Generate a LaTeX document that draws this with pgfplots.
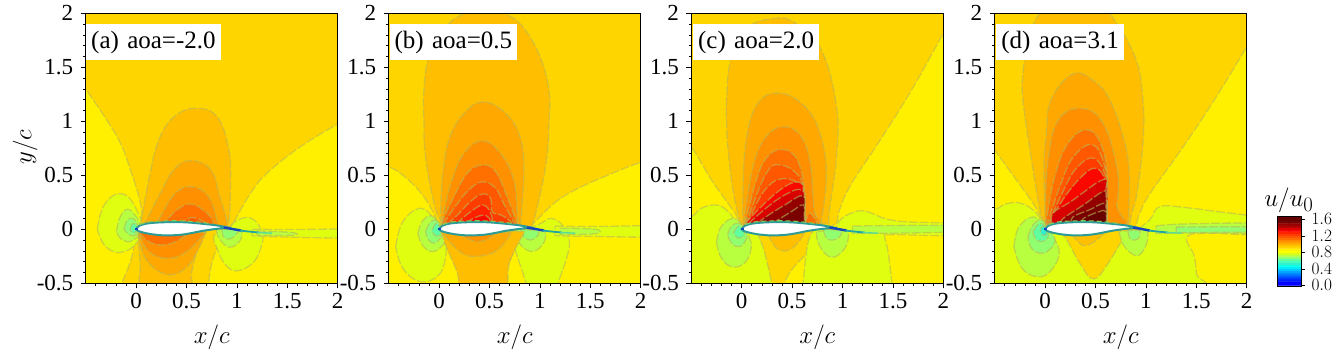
\documentclass[border=0pt]{standalone}
\usepackage{fontspec}
\setmainfont{Liberation Serif}
\usepackage{pgfplots}
\pgfplotsset{compat=1.18}
\definecolor{lA}{RGB}{255,240,0}
\definecolor{lB}{RGB}{255,213,0}
\definecolor{lC}{RGB}{255,190,0}
\definecolor{lD}{RGB}{255,168,0}
\definecolor{lE}{RGB}{255,144,0}
\definecolor{lF}{RGB}{255,112,0}
\definecolor{lG}{RGB}{255,88,0}
\definecolor{lH}{RGB}{255,60,0}
\definecolor{lI}{RGB}{255,32,0}
\definecolor{lJ}{RGB}{250,8,0}
\definecolor{lK}{RGB}{216,0,0}
\definecolor{lL}{RGB}{176,0,0}
\definecolor{lN}{RGB}{148,0,0}
\definecolor{lM}{RGB}{122,0,0}
\definecolor{lO}{RGB}{105,0,0}
\definecolor{gA}{RGB}{224,255,16}
\definecolor{gB}{RGB}{184,255,64}
\definecolor{gC}{RGB}{144,255,112}
\definecolor{gD}{RGB}{96,255,160}
\definecolor{gE}{RGB}{48,240,208}
\definecolor{ctr}{RGB}{185,185,85}
\definecolor{foil}{RGB}{45,155,150}
\tikzset{tag/.style={fill=white, inner sep=0pt, minimum height=36pt, anchor=north west, align=center, font=\fontsize{25}{27}\selectfont}}
\pgfplotsset{
  reg/.style={fill=#1, draw=ctr, draw opacity=0.6, line width=1.3pt, dash pattern=on 9pt off 2pt, smooth, tension=0.7, mark=none},
  bgr/.style={fill=lB, draw=none, mark=none},
  panel/.style={
    scale only axis, width=252pt, height=270pt, anchor=south west,
    xmin=-0.5, xmax=2, ymin=-0.5, ymax=2,
    axis on top, axis line style={line width=0.9pt},
    tick align=outside, xtick pos=bottom, ytick pos=left,
    major tick length=5pt, minor tick length=2.8pt,
    tick style={black, line width=0.7pt},
    xtick={0,0.5,1,1.5,2}, xticklabels={0,0.5,1,1.5,2},
    ytick={-0.5,0,0.5,1,1.5,2}, yticklabels={-0.5,0,0.5,1,1.5,2},
    minor xtick={-0.4,-0.3,-0.2,-0.1,0.1,0.2,0.3,0.4,0.6,0.7,0.8,0.9,1.1,1.2,1.3,1.4,1.6,1.7,1.8,1.9},
    minor ytick={-0.4,-0.3,-0.2,-0.1,0.1,0.2,0.3,0.4,0.6,0.7,0.8,0.9,1.1,1.2,1.3,1.4,1.6,1.7,1.8,1.9},
    tick label style={font=\fontsize{23}{25}\selectfont},
    xticklabel style={yshift=-1.5pt}, yticklabel style={xshift=-4pt},
    xlabel={$x/c$},
    xlabel style={font=\fontsize{24.88}{28}\selectfont, at={(axis description cs:0.5,-0.2)}, anchor=center},
  },
}
\newcommand{\airfoil}{%
  \addplot[fill=white, draw=foil, line width=2pt, mark=none, smooth, tension=0.5] coordinates {(0,0)(0.03,0.032)(0.1,0.052)(0.2,0.062)(0.35,0.067)(0.5,0.064)(0.65,0.052)(0.8,0.036)(0.92,0.014)(0.85,0.009)(0.75,-0.002)(0.65,-0.016)(0.55,-0.035)(0.45,-0.05)(0.35,-0.056)(0.25,-0.055)(0.15,-0.045)(0.07,-0.03)(0.02,-0.015)(0,0)} -- cycle;
  \addplot[draw={rgb,255:red,130;green,205;blue,90}, line width=1.1pt, dash pattern=on 5pt off 3pt, mark=none, smooth] coordinates {(0.04,0.045)(0.1,0.064)(0.2,0.074)(0.35,0.079)(0.5,0.076)(0.65,0.064)(0.75,0.05)};
  \addplot[draw={rgb,255:red,20;green,70;blue,190}, line width=2.4pt, mark=none] coordinates {(0.87,0.016)(0.95,0.004)(1.04,-0.012)};
  \addplot[draw={rgb,255:red,20;green,70;blue,190}, line width=2.4pt, mark=none] coordinates {(-0.01,0)(0.02,0)};
  \addplot[draw={rgb,255:red,30;green,165;blue,170}, line width=1.8pt, mark=none] coordinates {(1.03,-0.012)(1.13,-0.022)(1.22,-0.03)};
  \addplot[draw={rgb,255:red,90;green,220;blue,150}, line width=1.4pt, mark=none] coordinates {(1.2,-0.03)(1.35,-0.036)};
}
\begin{document}
\begin{tikzpicture}[x=1pt,y=1pt]
\useasboundingbox (0,0) rectangle (1340,352);

% ---------- (a) ----------
\begin{axis}[panel, at={(85.7pt,68.7pt)}, ylabel={$y/c$},
  ylabel style={font=\fontsize{24.88}{28}\selectfont, at={(axis description cs:-0.24,0.505)}, anchor=center}]
\addplot[bgr] coordinates {(-1,-1)(3,-1)(3,3)(-1,3)} -- cycle;
\addplot[reg=lA] coordinates {(-0.6,1.45)(-0.47,1.26)(-0.29,1.01)(-0.155,0.796)(-0.056,0.55)(0.043,0.24)(0.05,0.07)(0.03,0)(0,-0.05)(-0.05,-0.28)(-0.14,-0.5)(-0.16,-0.6)(-0.8,-0.6)(-0.8,1.45)} -- cycle;
\addplot[reg=lA] coordinates {(2.15,1.05)(2,0.975)(1.63,0.765)(1.30,0.52)(1.135,0.333)(0.97,0.07)(0.91,0)(0.82,-0.14)(0.75,-0.32)(0.72,-0.5)(0.71,-0.65)(2.3,-0.65)(2.3,1.05)} -- cycle;
\addplot[reg=gA] coordinates {(-0.385,0)(-0.33,0.20)(-0.21,0.32)(-0.08,0.30)(0.02,0.15)(0.06,0.04)(0.05,-0.06)(-0.02,-0.15)(-0.1,-0.2)(-0.21,-0.21)(-0.32,-0.14)(-0.385,0)} -- cycle;
\addplot[reg=gA] coordinates {(0.94,0.02)(0.98,0.07)(1.10,0.11)(1.2,0.06)(1.25,-0.04)(1.25,-0.13)(1.17,-0.3)(1.0,-0.385)(0.88,-0.32)(0.8,-0.17)(0.78,-0.05)(0.94,0.02)} -- cycle;
\addplot[reg=gA] coordinates {(1.15,0.0)(1.5,-0.002)(2.2,-0.005)(2.2,-0.075)(1.5,-0.072)(1.15,-0.06)} -- cycle;
\addplot[reg=gB] coordinates {(-0.195,-0.02)(-0.16,0.11)(-0.09,0.185)(-0.01,0.13)(0.04,0.04)(0.03,-0.05)(-0.03,-0.1)(-0.09,-0.115)(-0.16,-0.08)(-0.195,-0.02)} -- cycle;
\addplot[reg=gB] coordinates {(0.8,0)(0.82,-0.08)(0.92,-0.165)(1.02,-0.12)(1.05,-0.04)(1.03,0)(0.8,0)} -- cycle;
\addplot[reg=gB] coordinates {(1.2,-0.015)(1.55,-0.03)(1.55,-0.055)(1.2,-0.055)} -- cycle;
\addplot[reg=gC] coordinates {(-0.12,0)(-0.09,0.08)(-0.03,0.1)(0.02,0.02)(0,-0.05)(-0.06,-0.055)(-0.12,0)} -- cycle;
\addplot[reg=gC] coordinates {(0.85,0)(0.87,-0.07)(0.93,-0.09)(0.99,-0.05)(1,-0.01)(0.85,0)} -- cycle;
\addplot[reg=gD] coordinates {(-0.06,0)(-0.03,0.055)(0.015,0.01)(-0.02,-0.035)(-0.06,0)} -- cycle;
\addplot[reg=lC] coordinates {(0.04,0.03)(0.05,0.07)(0.076,0.21)(0.14,0.52)(0.225,0.827)(0.374,1.04)(0.59,1.12)(0.805,1.04)(0.92,0.735)(0.937,0.426)(0.92,0.07)(0.88,0.02)} -- cycle;
\addplot[reg=lC] coordinates {(0.02,-0.02)(0.04,-0.3)(0.08,-0.6)(0.52,-0.6)(0.55,-0.4)(0.62,-0.15)(0.69,-0.02)} -- cycle;
\addplot[reg=lD] coordinates {(0.06,0.03)(0.11,0.10)(0.24,0.333)(0.374,0.55)(0.54,0.636)(0.74,0.55)(0.83,0.30)(0.90,0.07)(0.88,0.02)} -- cycle;
\addplot[reg=lD] coordinates {(0.02,-0.03)(0.1,-0.28)(0.31,-0.42)(0.5,-0.35)(0.62,-0.18)(0.69,-0.03)} -- cycle;
\addplot[reg=lE] coordinates {(0.14,0.04)(0.21,0.07)(0.374,0.318)(0.546,0.395)(0.72,0.30)(0.805,0.07)(0.8,0.03)} -- cycle;
\addplot[reg=lE] coordinates {(0.03,-0.03)(0.12,-0.2)(0.3,-0.27)(0.48,-0.22)(0.62,-0.1)(0.69,-0.03)} -- cycle;
\addplot[reg=lF] coordinates {(0.24,0.04)(0.29,0.07)(0.407,0.18)(0.546,0.235)(0.705,0.148)(0.77,0.06)(0.75,0.03)} -- cycle;
\addplot[reg=lF] coordinates {(0.03,-0.03)(0.12,-0.11)(0.24,-0.145)(0.38,-0.12)(0.5,-0.05)} -- cycle;
\addplot[reg=lG] coordinates {(0.42,0.04)(0.47,0.07)(0.556,0.11)(0.67,0.07)(0.7,0.04)} -- cycle;
\airfoil
\node[tag, text width=135pt] at (rel axis cs:0,0.96) {(a) aoa=-2.0};
\end{axis}

% ---------- (b) ----------
\begin{axis}[panel, at={(388.7pt,68.7pt)}]
\addplot[bgr] coordinates {(-1,-1)(3,-1)(3,3)(-1,3)} -- cycle;
\addplot[reg=lA] coordinates {(-0.7,0.62)(-0.5,0.58)(-0.32,0.47)(-0.15,0.30)(-0.04,0.12)(0.02,0)(0.1,-0.1)(0.18,-0.3)(0.245,-0.5)(0.26,-0.6)(-0.7,-0.6)} -- cycle;
\addplot[reg=lA] coordinates {(2.2,0.66)(2,0.62)(1.67,0.50)(1.34,0.36)(1.14,0.24)(0.97,0.085)(0.88,0)(0.8,-0.1)(0.7,-0.3)(0.64,-0.5)(0.63,-0.6)(2.2,-0.6)} -- cycle;
\addplot[reg=gA] coordinates {(-0.43,-0.16)(-0.36,0.07)(-0.185,0.195)(-0.04,0.09)(0.03,0.01)(0.05,-0.1)(0.07,-0.22)(0,-0.42)(-0.185,-0.485)(-0.36,-0.36)(-0.43,-0.16)} -- cycle;
\addplot[reg=gA] coordinates {(0.88,0)(1.0,0.05)(1.11,0.10)(1.22,0.04)(1.29,-0.1)(1.27,-0.25)(1.19,-0.47)(1.14,-0.6)(0.93,-0.6)(0.81,-0.345)(0.73,-0.1)(0.71,-0.02)} -- cycle;
\addplot[reg=gA] coordinates {(1.15,0.03)(1.5,0.025)(2.2,0.025)(2.2,-0.065)(1.5,-0.065)(1.15,-0.06)} -- cycle;
\addplot[reg=gB] coordinates {(-0.21,-0.04)(-0.17,0.07)(-0.085,0.125)(0,0.06)(0.04,0)(0.06,-0.1)(0,-0.18)(-0.085,-0.205)(-0.17,-0.14)(-0.21,-0.04)} -- cycle;
\addplot[reg=gB] coordinates {(0.76,0)(0.79,-0.12)(0.91,-0.205)(1.02,-0.15)(1.06,-0.05)(1.04,0)} -- cycle;
\addplot[reg=gB] coordinates {(1.2,0.01)(1.55,0)(1.55,-0.04)(1.2,-0.05)} -- cycle;
\addplot[reg=gC] coordinates {(-0.135,-0.02)(-0.09,0.06)(-0.03,0.085)(0.02,0)(0.02,-0.07)(-0.05,-0.13)(-0.11,-0.09)(-0.135,-0.02)} -- cycle;
\addplot[reg=gC] coordinates {(0.81,0)(0.84,-0.07)(0.91,-0.1)(0.98,-0.06)(0.99,-0.01)} -- cycle;
\addplot[reg=gD] coordinates {(-0.07,-0.01)(-0.03,0.055)(0.015,0)(0,-0.06)(-0.05,-0.05)(-0.07,-0.01)} -- cycle;
\addplot[reg=lC] coordinates {(0.01,0.05)(0.02,0.07)(-0.05,0.24)(-0.135,0.67)(-0.15,0.98)(-0.15,1.29)(-0.1,1.6)(0.05,1.85)(0.21,1.98)(0.45,2.05)(0.69,1.98)(0.85,1.85)(1.0,1.6)(1.09,1.29)(1.09,0.98)(1.056,0.58)(0.94,0.086)(0.9,0.02)} -- cycle;
\addplot[reg=lC] coordinates {(0.02,-0.02)(0.08,-0.18)(0.18,-0.4)(0.245,-0.6)(0.63,-0.6)(0.7,-0.3)(0.85,-0.02)} -- cycle;
\addplot[reg=lD] coordinates {(0.03,0.04)(0.02,0.086)(0.02,0.27)(0.046,0.58)(0.11,0.86)(0.245,1.07)(0.44,1.18)(0.675,1.06)(0.81,0.83)(0.84,0.52)(0.825,0.27)(0.81,0.07)(0.8,0.03)} -- cycle;
\addplot[reg=lD] coordinates {(0.04,-0.04)(0.21,-0.21)(0.38,-0.25)(0.58,-0.19)(0.72,-0.03)} -- cycle;
\addplot[reg=lE] coordinates {(0.04,0.04)(0.046,0.15)(0.13,0.46)(0.245,0.70)(0.43,0.82)(0.61,0.70)(0.74,0.46)(0.775,0.15)(0.78,0.04)} -- cycle;
\addplot[reg=lE] coordinates {(0.18,-0.03)(0.25,-0.07)(0.38,-0.115)(0.5,-0.08)(0.56,-0.03)} -- cycle;
\addplot[reg=lF] coordinates {(0.04,0.04)(0.046,0.10)(0.146,0.30)(0.28,0.52)(0.43,0.595)(0.56,0.535)(0.675,0.30)(0.76,0.086)(0.76,0.04)} -- cycle;
\addplot[reg=lG] coordinates {(0.06,0.04)(0.06,0.07)(0.16,0.21)(0.295,0.364)(0.43,0.44)(0.56,0.38)(0.64,0.24)(0.74,0.07)(0.74,0.04)} -- cycle;
\addplot[reg=lH] coordinates {(0.09,0.04)(0.096,0.06)(0.18,0.13)(0.31,0.256)(0.43,0.327)(0.51,0.287)(0.53,0.16)(0.62,0.13)(0.71,0.07)(0.71,0.04)} -- cycle;
\addplot[reg=lI] coordinates {(0.18,0.04)(0.195,0.07)(0.31,0.16)(0.44,0.225)(0.52,0.13)(0.52,0.04)} -- cycle;
\addplot[reg=lJ] coordinates {(0.28,0.04)(0.31,0.085)(0.43,0.13)(0.5,0.10)(0.5,0.04)} -- cycle;
\airfoil
\node[tag, text width=127.4pt] at (rel axis cs:0.003,0.96) {(b) aoa=0.5};
\end{axis}

% ---------- (c) ----------
\begin{axis}[panel, at={(691.3pt,68.7pt)}]
\addplot[bgr] coordinates {(-1,-1)(3,-1)(3,3)(-1,3)} -- cycle;
\addplot[reg=lA] coordinates {(-0.7,1.0)(-0.5,0.765)(-0.3,0.457)(-0.135,0.24)(-0.02,0.07)(0.1,-0.2)(0.2,-0.6)(-0.7,-0.6)} -- cycle;
\addplot[reg=lA] coordinates {(2.1,1.98)(2,1.815)(1.685,1.29)(1.355,0.8)(1.09,0.425)(0.97,0.18)(0.94,0.055)(0.85,-0.03)(0.5,-0.6)(2.2,-0.6)(2.2,1.98)} -- cycle;
\addplot[reg=gA] coordinates {(-0.7,0.05)(-0.5,0.117)(-0.4,0.195)(-0.25,0.225)(-0.135,0.165)(-0.02,0.04)(0.16,-0.05)(0.295,-0.485)(0.3,-0.65)(-0.7,-0.65)} -- cycle;
\addplot[reg=gA] coordinates {(0.6,-0.65)(0.61,-0.485)(0.69,-0.04)(0.9,-0.01)(0.98,0.09)(1.09,0.15)(1.22,0.17)(1.42,0.10)(1.62,0.07)(2,0.06)(2.2,0.06)(2.2,-0.05)(1.5,-0.05)(1.42,-0.06)(1.45,-0.2)(1.49,-0.5)(1.5,-0.65)} -- cycle;
\addplot[reg=gB] coordinates {(-0.25,-0.12)(-0.2,0.03)(-0.07,0.10)(0.03,0)(0.06,-0.04)(0.095,-0.16)(0.04,-0.3)(-0.085,-0.35)(-0.2,-0.27)(-0.25,-0.12)} -- cycle;
\addplot[reg=gB] coordinates {(0.74,-0.02)(0.77,-0.15)(0.89,-0.26)(1.02,-0.18)(1.06,-0.05)(1.03,0)} -- cycle;
\addplot[reg=gB] coordinates {(1.1,0.03)(2.2,0.035)(2.2,-0.02)(1.1,-0.04)} -- cycle;
\addplot[reg=gC] coordinates {(-0.14,-0.05)(-0.1,0.03)(-0.03,0.055)(0.03,0)(0.05,-0.08)(-0.02,-0.16)(-0.1,-0.13)(-0.14,-0.05)} -- cycle;
\addplot[reg=gC] coordinates {(0.81,0)(0.84,-0.08)(0.91,-0.1)(0.98,-0.06)(0.99,-0.01)} -- cycle;
\addplot[reg=gD] coordinates {(-0.08,-0.03)(-0.03,0.03)(0.02,-0.01)(0.02,-0.06)(-0.04,-0.08)(-0.08,-0.03)} -- cycle;
\addplot[reg=lC] coordinates {(0.01,0.05)(-0.02,0.086)(-0.086,0.364)(-0.135,0.735)(-0.15,0.98)(-0.15,1.2)(-0.11,1.57)(0.03,1.85)(0.31,1.95)(0.53,1.91)(0.79,1.66)(0.94,1.136)(0.94,0.67)(0.875,0.21)(0.86,0.05)} -- cycle;
\addplot[reg=lC] coordinates {(0.26,-0.04)(0.33,-0.16)(0.43,-0.2)(0.54,-0.145)(0.625,-0.03)} -- cycle;
\addplot[reg=lD] coordinates {(0.02,0.04)(0.013,0.07)(0.013,0.364)(0.046,0.83)(0.16,1.167)(0.38,1.26)(0.626,1.136)(0.775,0.89)(0.84,0.52)(0.79,0.07)(0.78,0.04)} -- cycle;
\addplot[reg=lE] coordinates {(0.03,0.04)(0.03,0.07)(0.046,0.24)(0.13,0.64)(0.245,0.86)(0.41,0.95)(0.576,0.873)(0.675,0.64)(0.71,0.27)(0.725,0.15)(0.775,0.07)(0.77,0.04)} -- cycle;
\addplot[reg=lF] coordinates {(0.04,0.04)(0.046,0.10)(0.146,0.457)(0.245,0.66)(0.39,0.74)(0.54,0.66)(0.62,0.395)(0.626,0.086)(0.63,0.05)} -- cycle;
\addplot[reg=lF] coordinates {(0.626,0.05)(0.675,0.15)(0.74,0.07)(0.74,0.04)} -- cycle;
\addplot[reg=lG] coordinates {(0.05,0.05)(0.063,0.10)(0.245,0.52)(0.39,0.595)(0.56,0.50)(0.62,0.33)(0.625,0.05)} -- cycle;
\addplot[reg=lH] coordinates {(0.06,0.05)(0.08,0.10)(0.23,0.364)(0.41,0.47)(0.586,0.395)(0.625,0.2)(0.625,0.05)} -- cycle;
\addplot[reg=lJ] coordinates {(0.06,0.05)(0.08,0.10)(0.38,0.364)(0.576,0.434)(0.615,0.3)(0.625,0.05)} -- cycle;
\addplot[reg=lK] coordinates {(0.09,0.05)(0.113,0.093)(0.394,0.30)(0.6,0.364)(0.62,0.2)(0.625,0.05)} -- cycle;
\addplot[reg=lN] coordinates {(0.17,0.05)(0.195,0.086)(0.427,0.225)(0.61,0.31)(0.62,0.15)(0.625,0.05)} -- cycle;
\addplot[reg=lM] coordinates {(0.3,0.05)(0.33,0.07)(0.493,0.164)(0.61,0.226)(0.62,0.12)(0.625,0.05)} -- cycle;
\airfoil
\node[tag, text width=126.3pt] at (rel axis cs:0.006,0.96) {(c) aoa=2.0};
\end{axis}

% ---------- (d) ----------
\begin{axis}[panel, at={(994.7pt,68.7pt)}]
\addplot[bgr] coordinates {(-1,-1)(3,-1)(3,3)(-1,3)} -- cycle;
\addplot[reg=lA] coordinates {(-0.7,1.0)(-0.5,0.735)(-0.285,0.457)(-0.12,0.24)(-0.02,0.07)(0.1,-0.2)(0.2,-0.6)(-0.7,-0.6)} -- cycle;
\addplot[reg=lA] coordinates {(2.1,1.85)(2,1.69)(1.70,1.23)(1.37,0.765)(1.04,0.33)(0.94,0.15)(0.9,0.03)(0.8,-0.3)(0.5,-0.6)(2.2,-0.6)(2.2,1.85)} -- cycle;
\addplot[reg=gA] coordinates {(-0.7,0.12)(-0.5,0.18)(-0.385,0.235)(-0.235,0.24)(-0.085,0.15)(-0.01,0.03)(0.1,-0.02)(0.195,-0.07)(0.345,-0.315)(0.48,-0.46)(0.625,-0.315)(0.82,-0.02)(0.9,-0.01)(1.04,0.09)(1.14,0.21)(1.40,0.2)(1.70,0.165)(2.02,0.13)(2.2,0.12)(2.2,-0.05)(2,-0.05)(1.44,-0.05)(1.48,-0.25)(1.5,-0.41)(1.5,-0.65)(-0.7,-0.65)} -- cycle;
\addplot[reg=gB] coordinates {(-0.31,-0.16)(-0.26,0.02)(-0.12,0.115)(0,0.03)(0.08,-0.07)(0.14,-0.22)(0.06,-0.38)(-0.07,-0.44)(-0.23,-0.36)(-0.31,-0.16)} -- cycle;
\addplot[reg=gB] coordinates {(0.735,-0.02)(0.78,-0.15)(0.91,-0.245)(1,-0.15)(1.02,-0.03)(1,0)} -- cycle;
\addplot[reg=gB] coordinates {(1.1,0.03)(1.4,0.05)(2.2,0.05)(2.2,-0.03)(1.4,-0.035)(1.1,-0.04)} -- cycle;
\addplot[reg=gC] coordinates {(1.3,0.02)(2.2,0.02)(2.2,-0.02)(1.3,-0.03)} -- cycle;
\addplot[reg=gC] coordinates {(-0.17,-0.07)(-0.12,0.04)(-0.03,0.085)(0.03,0)(0.1,-0.1)(0.03,-0.2)(-0.06,-0.22)(-0.14,-0.17)(-0.17,-0.07)} -- cycle;
\addplot[reg=gC] coordinates {(0.82,-0.01)(0.84,-0.08)(0.88,-0.1)(0.93,-0.08)(0.94,-0.01)} -- cycle;
\addplot[reg=gD] coordinates {(-0.12,-0.02)(-0.05,0.055)(0.02,0)(0.03,-0.07)(-0.04,-0.115)(-0.1,-0.08)(-0.12,-0.02)} -- cycle;
\addplot[reg=gE] coordinates {(-0.05,0)(-0.02,0.03)(0.015,0)(0.01,-0.05)(-0.03,-0.05)(-0.05,0)} -- cycle;
\addplot[reg=lC] coordinates {(0.01,0.05)(-0.05,0.18)(-0.15,0.735)(-0.22,1.2)(-0.22,1.44)(-0.17,1.72)(-0.05,2)(0.25,2.15)(0.5,2.09)(0.64,2)(0.89,1.6)(0.97,1.2)(0.97,0.8)(0.91,0.33)(0.86,0.15)(0.84,0.03)} -- cycle;
\addplot[reg=lC] coordinates {(0.26,-0.04)(0.345,-0.13)(0.41,-0.15)(0.51,-0.1)(0.58,-0.04)} -- cycle;
\addplot[reg=lD] coordinates {(0.01,0.05)(0,0.2)(-0.01,0.6)(0.013,0.89)(0.06,1.2)(0.28,1.44)(0.5,1.36)(0.64,1.2)(0.76,0.9)(0.83,0.58)(0.83,0.15)(0.82,0.03)} -- cycle;
\addplot[reg=lE] coordinates {(0.01,0.05)(0,0.15)(0.03,0.64)(0.13,1.01)(0.36,1.12)(0.576,0.98)(0.71,0.58)(0.725,0.333)(0.71,0.225)(0.76,0.12)(0.81,0.07)(0.8,0.04)} -- cycle;
\addplot[reg=lF] coordinates {(0.01,0.05)(0.013,0.086)(0.096,0.49)(0.23,0.80)(0.43,0.92)(0.576,0.735)(0.616,0.426)(0.61,0.117)(0.61,0.05)} -- cycle;
\addplot[reg=lG] coordinates {(0.03,0.05)(0.03,0.07)(0.146,0.395)(0.28,0.67)(0.477,0.78)(0.60,0.55)(0.616,0.27)(0.61,0.05)} -- cycle;
\addplot[reg=lH] coordinates {(0.04,0.05)(0.05,0.08)(0.16,0.318)(0.31,0.565)(0.49,0.657)(0.61,0.457)(0.615,0.25)(0.61,0.05)} -- cycle;
\addplot[reg=lJ] coordinates {(0.05,0.05)(0.06,0.08)(0.13,0.21)(0.33,0.457)(0.51,0.565)(0.61,0.395)(0.615,0.2)(0.61,0.05)} -- cycle;
\addplot[reg=lK] coordinates {(0.07,0.05)(0.08,0.15)(0.26,0.26)(0.576,0.46)(0.605,0.35)(0.61,0.05)} -- cycle;
\addplot[reg=lN] coordinates {(0.16,0.05)(0.18,0.10)(0.38,0.225)(0.576,0.35)(0.605,0.3)(0.61,0.05)} -- cycle;
\addplot[reg=lM] coordinates {(0.26,0.05)(0.28,0.117)(0.44,0.18)(0.576,0.24)(0.605,0.2)(0.61,0.05)} -- cycle;
\addplot[reg=lO] coordinates {(0.36,0.05)(0.38,0.10)(0.54,0.165)(0.6,0.16)(0.61,0.05)} -- cycle;
\airfoil
\node[tag, text width=128.3pt] at (rel axis cs:0.004,0.96) {(d) aoa=3.1};
\end{axis}

% ---------- colour bar ----------
\begin{axis}[scale only axis, width=23.7pt, height=69.3pt, anchor=south west, at={(1277.3pt,66pt)},
  xmin=0, xmax=1, ymin=-0.015, ymax=1.665, axis on top,
  xtick=\empty, ytick={0,0.4,0.8,1.2,1.6}, yticklabels={$0.0$,$0.4$,$0.8$,$1.2$,$1.6$},
  ytick pos=right, tick align=outside, major tick length=4pt, tick style={black, line width=0.6pt},
  yticklabel pos=right, yticklabel style={font=\fontsize{17.28}{18}\selectfont, xshift=3pt},
  axis line style={line width=0.8pt},
  title={$u/u_0$}, title style={font=\fontsize{24.88}{28}\selectfont, at={(axis description cs:0.49,1.15)}, anchor=center},
  point meta min=0, point meta max=1.6,
  colormap={cb}{rgb255=(0,0,255) rgb255=(0,0,255) rgb255=(0,30,255) rgb255=(0,60,255) rgb255=(0,95,255) rgb255=(0,130,255) rgb255=(0,165,255) rgb255=(0,200,255) rgb255=(0,235,255) rgb255=(16,255,232) rgb255=(48,240,208) rgb255=(72,255,184) rgb255=(96,255,160) rgb255=(144,255,112) rgb255=(184,255,64) rgb255=(224,255,16) rgb255=(255,255,0) rgb255=(255,240,0) rgb255=(255,213,0) rgb255=(255,190,0) rgb255=(255,168,0) rgb255=(255,144,0) rgb255=(255,112,0) rgb255=(255,88,0) rgb255=(255,64,0) rgb255=(255,32,0) rgb255=(250,0,0) rgb255=(216,0,0) rgb255=(176,0,0) rgb255=(150,0,0) rgb255=(122,0,0) rgb255=(100,0,0)},
  colormap access=piecewise constant]
\addplot[matrix plot*, mesh/cols=2, point meta=explicit] table[meta=v] {
x y v
0 0.025 0.02
1 0.025 0.02
0 0.075 0.07
1 0.075 0.07
0 0.125 0.12
1 0.125 0.12
0 0.175 0.17
1 0.175 0.17
0 0.225 0.22
1 0.225 0.22
0 0.275 0.27
1 0.275 0.27
0 0.325 0.32
1 0.325 0.32
0 0.375 0.37
1 0.375 0.37
0 0.425 0.42
1 0.425 0.42
0 0.475 0.47
1 0.475 0.47
0 0.525 0.52
1 0.525 0.52
0 0.575 0.57
1 0.575 0.57
0 0.625 0.62
1 0.625 0.62
0 0.675 0.67
1 0.675 0.67
0 0.725 0.72
1 0.725 0.72
0 0.775 0.77
1 0.775 0.77
0 0.825 0.82
1 0.825 0.82
0 0.875 0.87
1 0.875 0.87
0 0.925 0.92
1 0.925 0.92
0 0.975 0.97
1 0.975 0.97
0 1.025 1.02
1 1.025 1.02
0 1.075 1.07
1 1.075 1.07
0 1.125 1.12
1 1.125 1.12
0 1.175 1.17
1 1.175 1.17
0 1.225 1.22
1 1.225 1.22
0 1.275 1.27
1 1.275 1.27
0 1.325 1.32
1 1.325 1.32
0 1.375 1.37
1 1.375 1.37
0 1.425 1.42
1 1.425 1.42
0 1.475 1.47
1 1.475 1.47
0 1.525 1.52
1 1.525 1.52
0 1.575 1.57
1 1.575 1.57
0 1.64 1.6
1 1.64 1.6
};
\end{axis}
\end{tikzpicture}
\end{document}
